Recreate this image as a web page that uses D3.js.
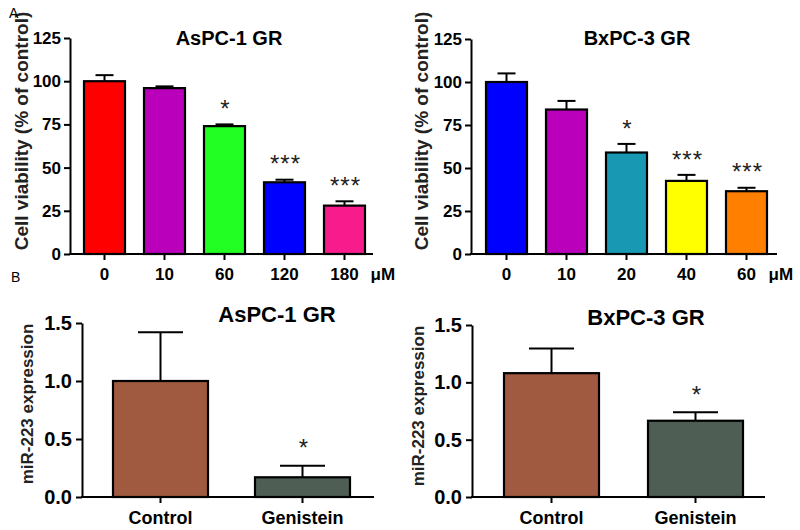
<!DOCTYPE html>
<html>
<head>
<meta charset="utf-8">
<script src="https://cdn.jsdelivr.net/npm/d3@7"></script>
<style>
  html, body { margin: 0; padding: 0; background: #fff; }
  svg { display: block; }
  text { font-family: "Liberation Sans", Arial, sans-serif; }
</style>
</head>
<body>
<svg id="chart" width="800" height="530"></svg>
<script>
// ---------- DATA ----------
const doseAsPC = ["0", "10", "60", "120", "180"];
const viabAsPC = [100, 96, 74, 41.5, 28];
const viabAsPCErr = [103.5, 97, 75, 43, 30.5];
const sigAsPC = ["", "", "*", "***", "***"];
const colorsAsPC = ["#ff0000", "#bb00bb", "#22ff22", "#0000ff", "#f81b8c"];

const doseBxPC = ["0", "10", "20", "40", "60"];
const viabBxPC = [100, 84, 59, 42.5, 36.5];
const viabBxPCErr = [105, 89, 64, 46, 38.5];
const sigBxPC = ["", "", "*", "***", "***"];
const colorsBxPC = ["#0000ff", "#bb00bb", "#1898b2", "#ffff00", "#ff8000"];

const groupsB = ["Control", "Genistein"];
const mirAsPC = [1.0, 0.17];
const mirAsPCErr = [1.42, 0.27];
const sigMirAsPC = ["", "*"];
const mirBxPC = [1.08, 0.665];
const mirBxPCErr = [1.295, 0.74];
const sigMirBxPC = ["", "*"];
const colorsB = ["#a05a40", "#4e5e54"];

const viabTicks = [0, 25, 50, 75, 100, 125];
const mirTicks = [0, 0.5, 1.0, 1.5];

// ---------- DRAW ----------
const svg = d3.select("#chart");

function panel(o) {
  const g = svg.append("g");
  const y = d3.scaleLinear().domain(o.domain).range([o.y0, o.y1]);
  const n = o.cats.length;
  const p = (o.step - o.bw) / o.step;
  const r0 = o.barX0 - (o.step - o.bw) / 2;
  const x = d3.scaleBand().domain(o.cats).range([r0, r0 + n * o.step])
    .paddingInner(p).paddingOuter(p / 2);

  // bars
  g.selectAll("rect.bar").data(o.cats).enter().append("rect")
    .attr("x", d => x(d))
    .attr("width", x.bandwidth())
    .attr("y", (d, i) => y(o.vals[i]))
    .attr("height", (d, i) => y(0) - y(o.vals[i]))
    .attr("fill", (d, i) => o.colors[i])
    .attr("stroke", "#000").attr("stroke-width", 2.2);

  // error bars
  o.cats.forEach((c, i) => {
    const cx = x(c) + x.bandwidth() / 2;
    g.append("line").attr("x1", cx).attr("x2", cx)
      .attr("y1", y(o.vals[i])).attr("y2", y(o.errs[i]))
      .attr("stroke", "#000").attr("stroke-width", 2);
    g.append("line").attr("x1", cx - o.cap / 2).attr("x2", cx + o.cap / 2)
      .attr("y1", y(o.errs[i])).attr("y2", y(o.errs[i]))
      .attr("stroke", "#000").attr("stroke-width", 2);
    if (o.sig[i]) {
      g.append("text").attr("x", cx + 1)
        .attr("y", y(o.errs[i]) - o.starGap + 0.57 * o.starSize)
        .attr("text-anchor", "middle")
        .attr("font-size", o.starSize).attr("letter-spacing", o.starSpace)
        .attr("fill", "#222")
        .text(o.sig[i]);
    }
  });

  // y axis
  const ya = g.append("g").attr("transform", `translate(${o.axisX},0)`)
    .call(d3.axisLeft(y).tickValues(o.ticks).tickFormat(o.fmt).tickSize(6).tickSizeOuter(0).tickPadding(o.yPad));
  ya.select(".domain").attr("stroke-width", 2);
  ya.selectAll(".tick line").attr("stroke-width", 2);
  ya.selectAll(".tick text").attr("font-size", o.tickSize).attr("font-weight", "bold")
    .attr("font-family", "Liberation Sans, Arial, sans-serif").attr("fill", "#000");

  // x axis
  const xa = g.append("g").attr("transform", `translate(0,${o.y0})`)
    .call(d3.axisBottom(x).tickSize(6).tickSizeOuter(0).tickPadding(o.xPad));
  xa.select(".domain").remove();
  xa.selectAll(".tick line").attr("stroke-width", 2);
  xa.selectAll(".tick text").attr("font-size", o.xTickSize).attr("font-weight", "bold")
    .attr("font-family", "Liberation Sans, Arial, sans-serif").attr("fill", "#000");
  g.append("line").attr("x1", o.axisX - 1).attr("x2", o.axisEnd)
    .attr("y1", o.y0).attr("y2", o.y0).attr("stroke", "#000").attr("stroke-width", 2);

  if (o.unit) {
    const last = o.cats[n - 1];
    g.append("text").attr("x", x(last) + x.bandwidth() / 2 + o.unitDx)
      .attr("y", o.y0 + o.xPad + 6 + o.xTickSize * 0.72)
      .attr("font-size", o.xTickSize).attr("font-weight", "bold").text(o.unit);
  }

  // title
  g.append("text").attr("x", o.titleX).attr("y", o.titleY)
    .attr("text-anchor", "middle").attr("font-size", o.titleSize)
    .attr("font-weight", "bold").text(o.title);

  // y label
  g.append("text")
    .attr("transform", `translate(${o.labX},${o.labY}) rotate(-90)`)
    .attr("text-anchor", "middle").attr("font-size", o.labSize)
    .attr("font-weight", "bold").attr("fill", "#222").text(o.label);
}

panel({
  cats: doseAsPC, vals: viabAsPC, errs: viabAsPCErr, sig: sigAsPC, colors: colorsAsPC,
  domain: [0, 125], y0: 254, y1: 38, ticks: viabTicks, fmt: d3.format("d"),
  barX0: 84, step: 60, bw: 41, cap: 18, axisX: 70, axisEnd: 373,
  tickSize: 17, xTickSize: 17, yPad: 3, xPad: 8,
  starSize: 24, starSpace: 1, starGap: 21,
  unit: "\u03bcM", unitDx: 26,
  title: "AsPC-1 GR", titleX: 229, titleY: 45, titleSize: 20,
  label: "Cell viability (% of control)", labX: 28, labY: 131, labSize: 19
});

panel({
  cats: doseBxPC, vals: viabBxPC, errs: viabBxPCErr, sig: sigBxPC, colors: colorsBxPC,
  domain: [0, 125], y0: 254, y1: 39, ticks: viabTicks, fmt: d3.format("d"),
  barX0: 486, step: 60, bw: 41, cap: 18, axisX: 471, axisEnd: 777,
  tickSize: 17, xTickSize: 17, yPad: 3, xPad: 8,
  starSize: 24, starSpace: 1, starGap: 21,
  unit: "\u03bcM", unitDx: 22,
  title: "BxPC-3 GR", titleX: 637, titleY: 45, titleSize: 20,
  label: "Cell viability (% of control)", labX: 428, labY: 131, labSize: 19
});

panel({
  cats: groupsB, vals: mirAsPC, errs: mirAsPCErr, sig: sigMirAsPC, colors: colorsB,
  domain: [0, 1.5], y0: 497, y1: 323, ticks: mirTicks, fmt: d3.format(".1f"),
  barX0: 113, step: 142, bw: 95, cap: 45, axisX: 82, axisEnd: 374,
  tickSize: 20, xTickSize: 18, yPad: 4, xPad: 8,
  starSize: 24, starSpace: 0, starGap: 23,
  title: "AsPC-1 GR", titleX: 277, titleY: 322, titleSize: 22,
  label: "miR-223 expression", labX: 33, labY: 404, labSize: 17
});

panel({
  cats: groupsB, vals: mirBxPC, errs: mirBxPCErr, sig: sigMirBxPC, colors: colorsB,
  domain: [0, 1.5], y0: 497, y1: 325, ticks: mirTicks, fmt: d3.format(".1f"),
  barX0: 504, step: 144, bw: 95, cap: 45, axisX: 472, axisEnd: 765,
  tickSize: 20, xTickSize: 18, yPad: 4, xPad: 8,
  starSize: 24, starSpace: 0, starGap: 23,
  title: "BxPC-3 GR", titleX: 646, titleY: 325, titleSize: 22,
  label: "miR-223 expression", labX: 424, labY: 406, labSize: 17
});

// panel letters
svg.append("text").attr("x", 9).attr("y", 18).attr("font-size", 14).text("A");
svg.append("text").attr("x", 11).attr("y", 282).attr("font-size", 14).text("B");
</script>
</body>
</html>
